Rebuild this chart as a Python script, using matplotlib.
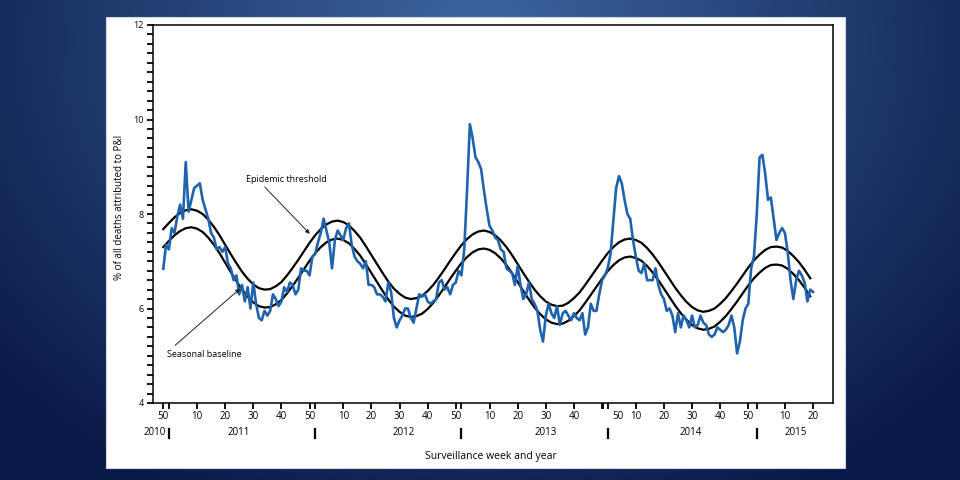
import numpy as np
import matplotlib
matplotlib.use("Agg")
import matplotlib.pyplot as plt
from matplotlib.patches import Rectangle
from matplotlib.lines import Line2D
from matplotlib.ticker import MultipleLocator

plt.rcParams['font.family'] = ['Open Sans', 'DejaVu Sans']

# week index on the x axis: 0 = last week of 2010 (2014 had 53 weeks)
year_start = {2010: -52, 2011: 0, 2012: 52, 2013: 104, 2014: 156, 2015: 209}

# weekly % of deaths due to pneumonia & influenza, 2010 wk 50 .. 2015 wk 20
pi_first_week = -2
pi_pct = [
    6.84, 7.35, 7.25, 7.7, 7.6, 7.95, 8.2, 7.9, 9.1, 8.05, 8.3, 8.55,
    8.6, 8.65, 8.3, 8.1, 7.9, 7.6, 7.5, 7.25, 7.3, 7.2,
    7.3, 6.95, 6.85, 6.6, 6.7, 6.3, 6.5, 6.15, 6.45, 6.0,
    6.55, 6.1, 5.8, 5.75, 5.95, 5.85, 5.95, 6.3, 6.2, 6.05,
    6.15, 6.45, 6.35, 6.55, 6.5, 6.3, 6.4, 6.85, 6.8, 6.8,
    6.7, 7.1, 7.15, 7.4, 7.6, 7.9, 7.65, 7.4, 6.85, 7.45,
    7.65, 7.55, 7.45, 7.7, 7.8, 7.35, 7.1, 7.0, 6.95, 6.85,
    7.0, 6.5, 6.5, 6.45, 6.3, 6.3, 6.25, 6.15, 6.55, 6.35,
    5.8, 5.6, 5.75, 5.85, 6.0, 6.0, 5.8, 5.7, 6.0, 6.3,
    6.25, 6.3, 6.15, 6.1, 6.15, 6.2, 6.55, 6.6, 6.4, 6.45,
    6.3, 6.5, 6.55, 6.8, 6.7, 7.25, 8.5, 9.9, 9.6, 9.2,
    9.1, 8.95, 8.5, 8.1, 7.75, 7.65, 7.5, 7.45, 7.25, 7.2,
    6.85, 6.8, 6.75, 6.5, 6.9, 6.5, 6.2, 6.3, 6.55, 6.2,
    6.1, 5.95, 5.55, 5.3, 5.85, 6.1, 5.9, 5.8, 6.05, 5.65,
    5.9, 5.95, 5.85, 5.75, 5.9, 5.8, 5.75, 5.9, 5.45, 5.6,
    6.1, 5.95, 5.95, 6.3, 6.6, 6.7, 6.85, 7.15, 7.85,
    8.55, 8.8, 8.65, 8.3, 8.0, 7.9, 7.45, 7.1, 6.8, 6.75,
    6.95, 6.6, 6.6, 6.6, 6.85, 6.5, 6.3, 6.2, 5.95, 6.0,
    5.85, 5.5, 5.9, 5.6, 5.85, 5.75, 5.6, 5.85, 5.6, 5.65,
    5.85, 5.7, 5.65, 5.45, 5.4, 5.45, 5.6, 5.55, 5.5, 5.55,
    5.65, 5.85, 5.6, 5.05, 5.3, 5.75, 6.0, 6.1, 6.85, 7.1,
    8.0, 9.2, 9.25, 8.85, 8.3, 8.35, 7.9, 7.45, 7.6, 7.7,
    7.6, 7.2, 6.6, 6.2, 6.6, 6.8, 6.7, 6.55, 6.15, 6.4, 6.35,
]

# seasonal baseline and epidemic threshold, read every 2 weeks
curve_first_week = -2
curve_step = 2
baseline = [
    7.30, 7.43, 7.55, 7.64, 7.70, 7.72, 7.69, 7.62, 7.50, 7.35,
    7.17, 6.97, 6.77, 6.58, 6.40, 6.25, 6.13, 6.05, 6.02, 6.03,
    6.09, 6.18, 6.32, 6.48, 6.65, 6.83, 7.01, 7.17, 7.30, 7.40,
    7.46, 7.48, 7.45, 7.38, 7.26, 7.12, 6.94, 6.75, 6.56, 6.37,
    6.19, 6.04, 5.93, 5.85, 5.82, 5.84, 5.89, 5.99, 6.12, 6.28,
    6.45, 6.63, 6.80, 6.96, 7.09, 7.19, 7.25, 7.27, 7.24, 7.17,
    7.06, 6.92, 6.75, 6.56, 6.37, 6.19, 6.02, 5.88, 5.77, 5.70,
    5.67, 5.68, 5.74, 5.84, 5.96, 6.12, 6.29, 6.46, 6.63, 6.79,
    6.92, 7.02, 7.08, 7.10, 7.07, 7.01, 6.90, 6.76, 6.60, 6.42,
    6.24, 6.06, 5.90, 5.76, 5.65, 5.58, 5.55, 5.57, 5.62, 5.72,
    5.84, 5.99, 6.15, 6.32, 6.49, 6.64, 6.76, 6.86, 6.92, 6.93,
    6.91, 6.84, 6.73, 6.60, 6.44, 6.26,
]
threshold = [
    7.68, 7.81, 7.93, 8.02, 8.08, 8.10, 8.07, 8.00, 7.88, 7.73,
    7.55, 7.35, 7.15, 6.96, 6.78, 6.63, 6.51, 6.43, 6.40, 6.41,
    6.47, 6.56, 6.70, 6.86, 7.03, 7.21, 7.39, 7.55, 7.68, 7.78,
    7.84, 7.86, 7.83, 7.76, 7.64, 7.50, 7.32, 7.13, 6.94, 6.75,
    6.57, 6.42, 6.31, 6.23, 6.20, 6.22, 6.27, 6.37, 6.50, 6.66,
    6.83, 7.01, 7.18, 7.34, 7.47, 7.57, 7.63, 7.65, 7.62, 7.55,
    7.44, 7.30, 7.13, 6.94, 6.75, 6.57, 6.40, 6.26, 6.15, 6.08,
    6.05, 6.06, 6.12, 6.22, 6.34, 6.50, 6.67, 6.84, 7.01, 7.17,
    7.30, 7.40, 7.46, 7.48, 7.45, 7.39, 7.28, 7.14, 6.98, 6.80,
    6.62, 6.44, 6.28, 6.14, 6.03, 5.96, 5.93, 5.95, 6.00, 6.10,
    6.22, 6.37, 6.53, 6.70, 6.87, 7.02, 7.14, 7.24, 7.30, 7.31,
    7.29, 7.22, 7.11, 6.98, 6.82, 6.64,
]

# x axis: week ticks and labels
tick_years = [2010] + [2011] * 5 + [2012] * 5 + [2013] * 5 + [2014] * 5 + [2015] * 2
tick_weeks = [50] + [10, 20, 30, 40, 50] * 4 + [10, 20]
tick_labels = [str(w) for w in tick_weeks]
sep_years = [2011, 2012, 2013, 2014, 2015]
year_labels = ['2010', '2011', '2012', '2013', '2014', '2015']
year_label_weeks = [51, 25, 31.5, 30, 29.5, 14]

W, H = 960, 480
fig = plt.figure(figsize=(W / 100, H / 100), dpi=100)

# blue slide background
yy, xx = np.mgrid[0:H, 0:W]
r = np.clip(np.sqrt(((xx - 480) / 640) ** 2 + ((yy - 40) / 520) ** 2), 0, 1)
c0 = np.array([62, 102, 160]) / 255
c1 = np.array([9, 26, 72]) / 255
bg = fig.add_axes([0, 0, 1, 1], zorder=-3)
bg.imshow(c0 + (c1 - c0) * r[..., None], aspect='auto')
bg.axis('off')

# white card
fig.add_artist(Rectangle((106 / W, 1 - 468 / H), (845 - 106) / W, (468 - 17) / H,
                         transform=fig.transFigure, facecolor='white',
                         edgecolor='#d0d6de', lw=0.8, zorder=-1))

ax = fig.add_axes([153 / W, 1 - 403 / H, 680 / W, 378 / H])
ax.set_facecolor('white')

x_pi = np.arange(pi_first_week, pi_first_week + len(pi_pct))
x_curve = np.arange(curve_first_week, curve_first_week + curve_step * len(baseline), curve_step)

ax.plot(x_curve, threshold, color='black', lw=1.6, zorder=2)
ax.plot(x_curve, baseline, color='black', lw=1.6, zorder=2)
ax.plot(x_pi, pi_pct, color='#1f63ad', lw=1.9, zorder=3, solid_joinstyle='round')

ax.set_xlim(-5.65, 236.1)
ax.set_ylim(4, 12)

for s in ax.spines.values():
    s.set_linewidth(1.1)
    s.set_color('black')

ax.set_yticks([4, 6, 8, 10, 12])
ax.set_yticklabels(['4', '6', '8', '10', '12'], fontsize=6.5)
ax.yaxis.set_minor_locator(MultipleLocator(0.2))
ax.tick_params(axis='y', which='both', direction='out', length=4.5, width=1.3, pad=2)

tick_pos = [year_start[y] + w for y, w in zip(tick_years, tick_weeks)]
sep_pos = [year_start[y] for y in sep_years]
ax.set_xticks(tick_pos + sep_pos + [year_start[2014] - 1.5])
ax.set_xticklabels([])
ax.tick_params(axis='x', direction='out', length=4.5, width=1.3)

tr = ax.get_xaxis_transform()
for pos, lab, y, w in zip(tick_pos, tick_labels, tick_years, tick_weeks):
    if (y, w) == (2013, 50):
        pos = year_start[2014] + 3.5  # label sits right of the 2014 divider
    ax.text(pos, -0.037, lab, transform=tr, ha='center', va='center', fontsize=7)

for p in sep_pos:
    ax.add_line(Line2D([p, p], [-0.070, -0.093], transform=tr, color='black',
                       lw=1.6, clip_on=False))

for lab, w in zip(year_labels, year_label_weeks):
    yr = int(lab)
    ax.text(year_start[yr] + w, -0.079, lab, transform=tr,
            ha='right' if yr == 2010 else 'center', va='center', fontsize=7)

fig.text(491 / W, 1 - 456 / H, 'Surveillance week and year', ha='center',
         va='center', fontsize=7.5)
fig.text(120 / W, 1 - 207 / H, '% of all deaths attributed to P&I', rotation=90,
         ha='center', va='center', fontsize=7)

# annotations
arrow = dict(arrowstyle='-|>', color='#222222', lw=0.7, mutation_scale=6,
             shrinkA=0, shrinkB=0)
ax.text(41.8, 8.74, 'Epidemic threshold', ha='center', va='center', fontsize=6.5)
ax.annotate('', xy=(50.1, 7.58), xytext=(34.1, 8.57), arrowprops=arrow)
ax.text(12.5, 5.03, 'Seasonal baseline', ha='center', va='center', fontsize=6.5)
ax.annotate('', xy=(25.3, 6.42), xytext=(2.2, 5.22), arrowprops=arrow)

fig.savefig('out.png', dpi=100)
